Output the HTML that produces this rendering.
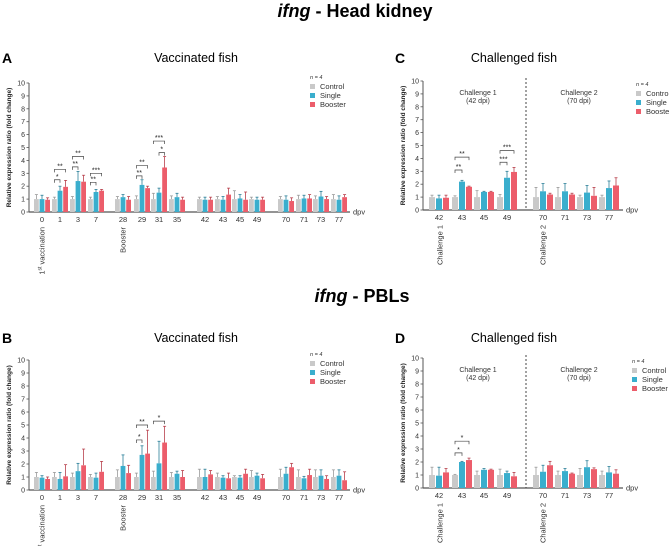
<!DOCTYPE html>
<html><head><meta charset="utf-8">
<style>
html,body{margin:0;padding:0;background:#fff;}
svg{display:block;font-family:"Liberation Sans",Arial,sans-serif;}
</style></head>
<body>
<svg id="fig" width="669" height="546" viewBox="0 0 669 546" xmlns="http://www.w3.org/2000/svg">
<text x="355" y="17" text-anchor="middle" font-size="18" font-weight="bold"><tspan font-style="italic">ifng</tspan> - Head kidney</text>
<text x="362" y="302" text-anchor="middle" font-size="18" font-weight="bold"><tspan font-style="italic">ifng</tspan> - PBLs</text>
<text x="2" y="63" font-size="14" font-weight="bold">A</text>
<text x="196" y="62" text-anchor="middle" font-size="12.5">Vaccinated fish</text>
<text x="395" y="63" font-size="14" font-weight="bold">C</text>
<text x="514" y="62" text-anchor="middle" font-size="12.5">Challenged fish</text>
<text x="2" y="343" font-size="14" font-weight="bold">B</text>
<text x="196" y="342" text-anchor="middle" font-size="12.5">Vaccinated fish</text>
<text x="395" y="343" font-size="14" font-weight="bold">D</text>
<text x="514" y="342" text-anchor="middle" font-size="12.5">Challenged fish</text>
</svg>
<script>
// ---- data ----
const vacCategories = ["0","1","3","7","28","29","31","35","42","43","45","49","70","71","73","77"];
const chaCategories = ["42","43","45","49","70","71","73","77"];
const seriesNames = ["Control","Single","Booster"];
const yTicks = [0,1,2,3,4,5,6,7,8,9,10];

const aControl = [1,1,1,1,1,1,1,1,1,1,1,1,1,1,1,1];
const aSingle  = [1,1.65,2.4,1.55,1.15,2.1,1.5,1.15,0.95,0.95,1.05,0.95,0.95,1.05,1.2,0.95];
const aBooster = [0.95,1.95,2.35,1.65,0.95,1.85,3.45,0.95,0.95,1.35,0.95,0.95,0.85,1.05,1.0,1.15];
const aControlErr = [1.35,1.15,1.2,1.15,1.2,1.25,1.45,1.25,1.15,1.2,1.65,1.15,1.2,1.3,1.25,1.35];
const aSingleErr  = [1.3,2.0,3.15,1.75,1.35,2.5,1.85,1.45,1.15,1.2,1.35,1.15,1.25,1.3,1.6,1.25];
const aBoosterErr = [1.1,2.45,2.85,1.75,1.2,2.0,4.3,1.15,1.15,1.85,1.55,1.15,1.1,1.35,1.2,1.35];
const aSig = [[1,0,1,2.5,"*"],[1,0,2,3.3,"**"],[2,0,1,3.5,"**"],[2,0,2,4.3,"**"],[3,0,1,2.3,"**"],[3,0,2,3.0,"***"],[5,0,1,2.8,"**"],[5,0,2,3.6,"**"],[6,1,2,4.6,"*"],[6,0,2,5.5,"***"]];

const bControl = [1,1,1,1,1,1,1,1,1,1,1,1,1,1,1,1];
const bSingle  = [0.95,0.85,1.45,0.95,1.85,2.7,2.05,1.25,1.0,0.95,0.95,1.1,1.25,0.9,1.1,1.1];
const bBooster = [0.85,1.05,1.9,1.4,1.3,2.8,3.65,1.0,1.2,0.9,1.25,0.9,1.75,1.15,0.85,0.75];
const bControlErr = [1.35,1.35,1.3,1.2,1.55,1.3,1.45,1.35,1.6,1.3,1.1,1.5,1.6,1.55,1.55,1.55];
const bSingleErr  = [1.1,1.35,2.05,1.3,2.7,3.4,3.75,1.45,1.6,1.1,1.1,1.3,1.75,1.05,1.55,1.55];
const bBoosterErr = [1.0,1.95,3.15,2.2,1.9,4.6,4.9,1.5,1.5,1.3,1.6,1.2,2.05,1.6,1.1,1.4];
const bSig = [[5,0,1,3.85,"*"],[5,0,2,5.0,"**"],[6,0,2,5.3,"*"]];

const cControl = [1,1,1,1,1,1,1,1];
const cSingle  = [0.9,2.2,1.4,2.5,1.45,1.45,1.35,1.7];
const cBooster = [0.95,1.8,1.4,2.95,1.2,1.2,1.1,1.9];
const cControlErr = [1.15,1.1,1.5,1.2,1.75,1.75,1.15,1.15];
const cSingleErr  = [1.15,2.3,1.45,3.0,2.05,2.05,1.9,2.25];
const cBoosterErr = [1.15,1.85,1.45,3.3,1.3,1.3,1.75,2.5];
const cSig = [[1,0,1,3.1,"**"],[1,0,2,4.1,"**"],[3,0,1,3.7,"***"],[3,0,2,4.6,"***"]];

const dControl = [1,1,1,1,1,1,1,1];
const dSingle  = [0.95,2.0,1.4,1.15,1.25,1.3,1.6,1.2];
const dBooster = [1.2,2.15,1.4,0.9,1.75,1.1,1.45,1.1];
const dControlErr = [1.6,1.05,1.3,1.45,1.6,1.3,1.5,1.3];
const dSingleErr  = [1.6,2.05,1.5,1.3,1.75,1.5,2.1,1.65];
const dBoosterErr = [1.5,2.3,1.45,1.2,2.05,1.15,1.55,1.4];
const dSig = [[1,0,1,2.7,"*"],[1,0,2,3.6,"*"]];

// ---- drawing ----
const NS="http://www.w3.org/2000/svg";
const svg=document.getElementById('fig');
const COL=["#c9c9c9","#3aaecd","#ec5d6b"];
const ECOL=["#9a9a9a","#2a7f98","#b8404c"];
function mk(tag,attrs,parent){const e=document.createElementNS(NS,tag);for(const k in attrs)e.setAttribute(k,attrs[k]);(parent||svg).appendChild(e);return e;}

function panel(p){
  const g=mk('g',{});
  
  
  const y=v=>p.y0-(p.y0-p.y10)*v/10;
  const xg=i=>p.xs[i];
  // y axis
  const ax=mk('line',{x1:p.ax,y1:p.y10,x2:p.ax,y2:p.y0,stroke:'#555','stroke-width':1},g);
  
  
  yTicks.forEach(t=>{
    mk('line',{x1:p.ax-2.5,y1:y(t),x2:p.ax,y2:y(t),stroke:'#555','stroke-width':0.8},g);
    const tl=mk('text',{x:p.ax-4,y:y(t)+2.5,'text-anchor':'end','font-size':7,fill:'#333'},g);
    tl.textContent=t;
    
    
  });
  const yt=mk('text',{x:0,y:0,'text-anchor':'middle','font-size':6.5,'font-weight':'bold',fill:'#222',transform:`translate(${p.ax-18},${(p.y0+p.y10)/2}) rotate(-90)`},g);
  yt.textContent='Relative expression ratio (fold change)';
  
  
  // x axis
  const xa=mk('line',{x1:p.ax,y1:p.y0,x2:p.xEnd,y2:p.y0,stroke:'#555','stroke-width':1.2},g);
  
  
  const dpv=mk('text',{x:p.xEnd+3,y:p.y0+2.5,'font-size':7.5,fill:'#333'},g);
  dpv.textContent='dpv';
  
  
  p.cats.forEach((c,i)=>{
    const t=mk('text',{x:xg(i),y:p.y0+10,'text-anchor':'middle','font-size':7.5,fill:'#333'},g);
    t.textContent=c;
    
    
  });
  // bars
  const vals=[p.c,p.s,p.b], errs=[p.ce,p.se,p.be];
  p.cats.forEach((c,i)=>{
    for(let k=0;k<3;k++){
      const cx=xg(i)+(k-1)*p.step, v=vals[k][i], e=errs[k][i];
      const ln=mk('line',{x1:cx,y1:y(e),x2:cx,y2:y(v),stroke:ECOL[k],'stroke-width':0.8},g);
      
      
      mk('line',{x1:cx-1.5,y1:y(e),x2:cx+1.5,y2:y(e),stroke:ECOL[k],'stroke-width':0.8},g);
      const r=mk('rect',{x:cx-p.bw/2,y:y(v),width:p.bw,height:p.y0-y(v),fill:COL[k]},g);
      
      
    }
  });
  // significance
  p.sig.forEach(s=>{
    const [gi,a,b,v,lab]=s;
    const x1=xg(gi)+(a-1)*p.step, x2=xg(gi)+(b-1)*p.step, yy=y(v);
    const br=mk('path',{d:`M${x1},${yy+3}V${yy}H${x2}V${yy+3}`,fill:'none',stroke:'#444','stroke-width':0.7},g);
    
    
    const st=mk('text',{x:(x1+x2)/2,y:yy-1,'text-anchor':'middle','font-size':7,fill:'#222'},g);
    st.textContent=lab;
    
    
  });
  // legend
  const nt=mk('text',{x:p.lx,y:p.ly,'font-size':5.5,'font-style':'italic',fill:'#333'},g);
  nt.textContent='n = 4';
  
  
  for(let k=0;k<3;k++){
    const ry=p.ly+5+k*9;
    const sq=mk('rect',{x:p.lx,y:ry,width:5,height:5,fill:COL[k]},g);
    
    
    const lt=mk('text',{x:p.lx+10,y:ry+5,'font-size':7.5,fill:'#333'},g);
    lt.textContent=seriesNames[k];
    
    
  }
  // rotated annotations
  p.rot.forEach(r=>{
    const t=mk('text',{x:0,y:0,'text-anchor':'end','font-size':7.5,fill:'#333',transform:`translate(${r[0]+2.5},${p.y0+15}) rotate(-90)`},g);
    if(r[1]==='1st vaccination'){t.innerHTML='1<tspan font-size="5" dy="-3">st</tspan><tspan dy="3"> vaccination</tspan>';}
    else t.textContent=r[1];
    
    
  });
  if(p.dash){
    const dl=mk('line',{x1:p.dash,y1:p.y10-3,x2:p.dash,y2:p.y0,stroke:'#444','stroke-width':1,'stroke-dasharray':'2,2'},g);
    
    
    [[p.c1,'Challenge 1'],[p.c2,'Challenge 2']].forEach(q=>{
      const t1=mk('text',{x:q[0],y:p.y10+14,'text-anchor':'middle','font-size':7,fill:'#333'},g);
      t1.textContent=q[1];
      
      
      const t2=mk('text',{x:q[0],y:p.y10+22,'text-anchor':'middle','font-size':7,fill:'#333'},g);
      t2.textContent=q[1]==='Challenge 1'?'(42 dpi)':'(70 dpi)';
      
      
    });
  }
}
const vx=[42,60,78,96,123,142,159,177,205,223,240,257,286,304,321,339];
const cx=[439,462,484,507,543,565,587,609];
panel({name:'panel-a-chart',cats:vacCategories,xs:vx,ax:29,y0:212,y10:83,xEnd:350,step:5.6,bw:4.8,c:aControl,s:aSingle,b:aBooster,ce:aControlErr,se:aSingleErr,be:aBoosterErr,sig:aSig,lx:310,ly:79,rot:[[42,'1st vaccination'],[123,'Booster']]});
panel({name:'panel-b-chart',cats:vacCategories,xs:vx,ax:29,y0:490,y10:360,xEnd:350,step:5.6,bw:4.8,c:bControl,s:bSingle,b:bBooster,ce:bControlErr,se:bSingleErr,be:bBoosterErr,sig:bSig,lx:310,ly:356,rot:[[42,'1st vaccination'],[123,'Booster']]});
panel({name:'panel-c-chart',cats:chaCategories,xs:cx,ax:423,y0:210,y10:81,xEnd:623,step:7,bw:6,c:cControl,s:cSingle,b:cBooster,ce:cControlErr,se:cSingleErr,be:cBoosterErr,sig:cSig,lx:636,ly:86,rot:[[440,'Challenge 1'],[543,'Challenge 2']],dash:526,c1:478,c2:579});
panel({name:'panel-d-chart',cats:chaCategories,xs:cx,ax:423,y0:488,y10:358,xEnd:623,step:7,bw:6,c:dControl,s:dSingle,b:dBooster,ce:dControlErr,se:dSingleErr,be:dBoosterErr,sig:dSig,lx:632,ly:363,rot:[[440,'Challenge 1'],[543,'Challenge 2']],dash:526,c1:478,c2:579});
</script>
</body></html>
